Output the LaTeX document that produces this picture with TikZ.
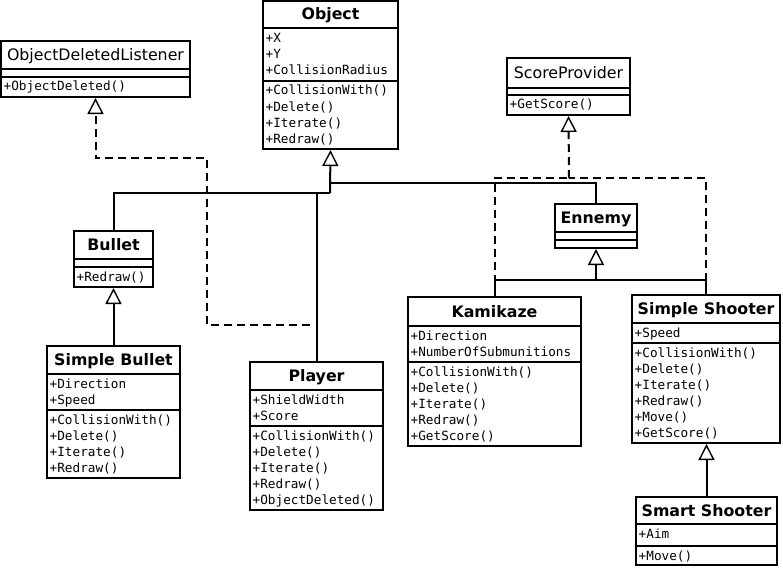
\documentclass[tikz,border=0pt]{standalone}
\usepackage{fontspec}
\setmainfont{DejaVu Sans}
\newfontfamily\monof{DejaVu Sans Mono}
\usetikzlibrary{arrows.meta}

% name, left, top, right, bottom, sep1, sep2
\newcommand\umlbox[7]{%
  \node[clsbox, minimum width={#4-#2}, minimum height={#5-#3}] (#1) at ({(#2+#4)/2},{(#3+#5)/2}) {};
  \draw[sepline] (#1.west |- 0,#6) -- (#1.east |- 0,#6);
  \draw[sepline] (#1.west |- 0,#7) -- (#1.east |- 0,#7);
}
% prefix, x, first baseline, list
\newcommand\umlmembers[4]{%
  \foreach \t [count=\i] in {#4} \node[mem] (#1\i) at (#2,{#3+16*(\i-1)}) {\t};
}

\begin{document}
\begin{tikzpicture}[x=1pt,y=-1pt,
  clsbox/.style={draw, line width=2pt, rectangle, inner sep=0pt, fill=white},
  sepline/.style={line width=2pt},
  mem/.style={anchor=base west, inner sep=0pt, font=\monof\fontsize{12.7}{15}\selectfont},
  ttlb/.style={anchor=base, inner sep=0pt, font=\bfseries\fontsize{15.8}{18}\selectfont},
  ttlr/.style={anchor=base, inner sep=0pt, font=\fontsize{15.8}{18}\selectfont},
  conn/.style={line width=2pt},
  dsh/.style={line width=2pt, dash pattern=on 8pt off 5pt},
  inh/.style={-{Triangle[open, length=16pt, width=16pt, line width=1.4pt]}}
]
\useasboundingbox (0,0) rectangle (783,567);
\fill[white] (0,0) rectangle (783,567);

% ---- classes ----
\umlbox{ODL}{1}{41}{190}{97}{69}{77}
\node[ttlr] (ODL-t) at (95.5,60.5) {ObjectDeletedListener};
\umlmembers{ODL-m}{3.5}{91}{+ObjectDeleted()}

\umlbox{Object}{263}{1}{398}{149}{28}{81}
\node[ttlb] (Object-t) at (330.5,20) {Object};
\umlmembers{Object-a}{265.5}{42.5}{+X,+Y,+CollisionRadius}
\umlmembers{Object-m}{265.5}{95}{+CollisionWith(),+Delete(),+Iterate(),+Redraw()}

\umlbox{SP}{507}{58}{630}{115}{88}{95}
\node[ttlr] (SP-t) at (568.5,78.5) {ScoreProvider};
\umlmembers{SP-m}{509.5}{109}{+GetScore()}

\umlbox{Ennemy}{555}{204}{637}{248}{232}{240}
\node[ttlb] (Ennemy-t) at (596,223.5) {Ennemy};

\umlbox{Bullet}{74}{231}{153}{287}{259}{267}
\node[ttlb] (Bullet-t) at (113.5,250.5) {Bullet};
\umlmembers{Bullet-m}{76.5}{281}{+Redraw()}

\umlbox{SimpleBullet}{47}{346}{180}{478}{374}{410}
\node[ttlb] (SimpleBullet-t) at (113.5,365.5) {Simple Bullet};
\umlmembers{SimpleBullet-a}{49.5}{388}{+Direction,+Speed}
\umlmembers{SimpleBullet-m}{49.5}{424}{+CollisionWith(),+Delete(),+Iterate(),+Redraw()}

\umlbox{Player}{250}{362}{383}{510}{390}{426}
\node[ttlb] (Player-t) at (316.5,381.5) {Player};
\umlmembers{Player-a}{252.5}{404}{+ShieldWidth,+Score}
\umlmembers{Player-m}{252.5}{440}{+CollisionWith(),+Delete(),+Iterate(),+Redraw(),+ObjectDeleted()}

\umlbox{Kamikaze}{408}{297}{581}{446}{326}{362}
\node[ttlb] (Kamikaze-t) at (494.5,317) {Kamikaze};
\umlmembers{Kamikaze-a}{410.5}{340}{+Direction,+NumberOfSubmunitions}
\umlmembers{Kamikaze-m}{410.5}{376}{+CollisionWith(),+Delete(),+Iterate(),+Redraw(),+GetScore()}

\umlbox{SimpleShooter}{632}{295}{780}{443}{323}{343}
\node[ttlb] (SimpleShooter-t) at (706,314.5) {Simple Shooter};
\umlmembers{SimpleShooter-a}{634.5}{337}{+Speed}
\umlmembers{SimpleShooter-m}{634.5}{357}{+CollisionWith(),+Delete(),+Iterate(),+Redraw(),+Move(),+GetScore()}

\umlbox{SmartShooter}{636}{497}{777}{565}{524}{546}
\node[ttlb] (SmartShooter-t) at (706.5,516) {Smart Shooter};
\umlmembers{SmartShooter-a}{638.5}{538.5}{+Aim}
\umlmembers{SmartShooter-m}{638.5}{560}{+Move()}

% ---- junctions ----
\coordinate (objj) at (330,193);
\coordinate (objk) at (330,183);
\coordinate (enj) at (596,280);
\coordinate (spj) at (569,178);
\coordinate (pdl) at (310,325);

% ---- connectors ----
\draw[dsh,inh] (pdl) -| (207,158) -| (ODL.south);
\draw[dsh] (Kamikaze.north) |- (spj);
\draw[dsh] (SimpleShooter.north) |- (spj);
\draw[dsh,inh] (spj) -- (SP.south);

\draw[conn,inh] (objj) -- (Object.south);
\draw[conn] (Bullet.north) |- (objj);
\draw[conn] (Player.north) |- (objj);
\draw[conn] (Ennemy.north) |- (objk);

\draw[conn,inh] (enj) -- (Ennemy.south);
\draw[conn] (Kamikaze.north) |- (enj);
\draw[conn] (SimpleShooter.north) |- (enj);

\draw[conn,inh] (SimpleBullet.north) -- (Bullet.south);
\draw[conn,inh] (SmartShooter.north) -- (SmartShooter.north |- SimpleShooter.south);
\end{tikzpicture}
\end{document}
